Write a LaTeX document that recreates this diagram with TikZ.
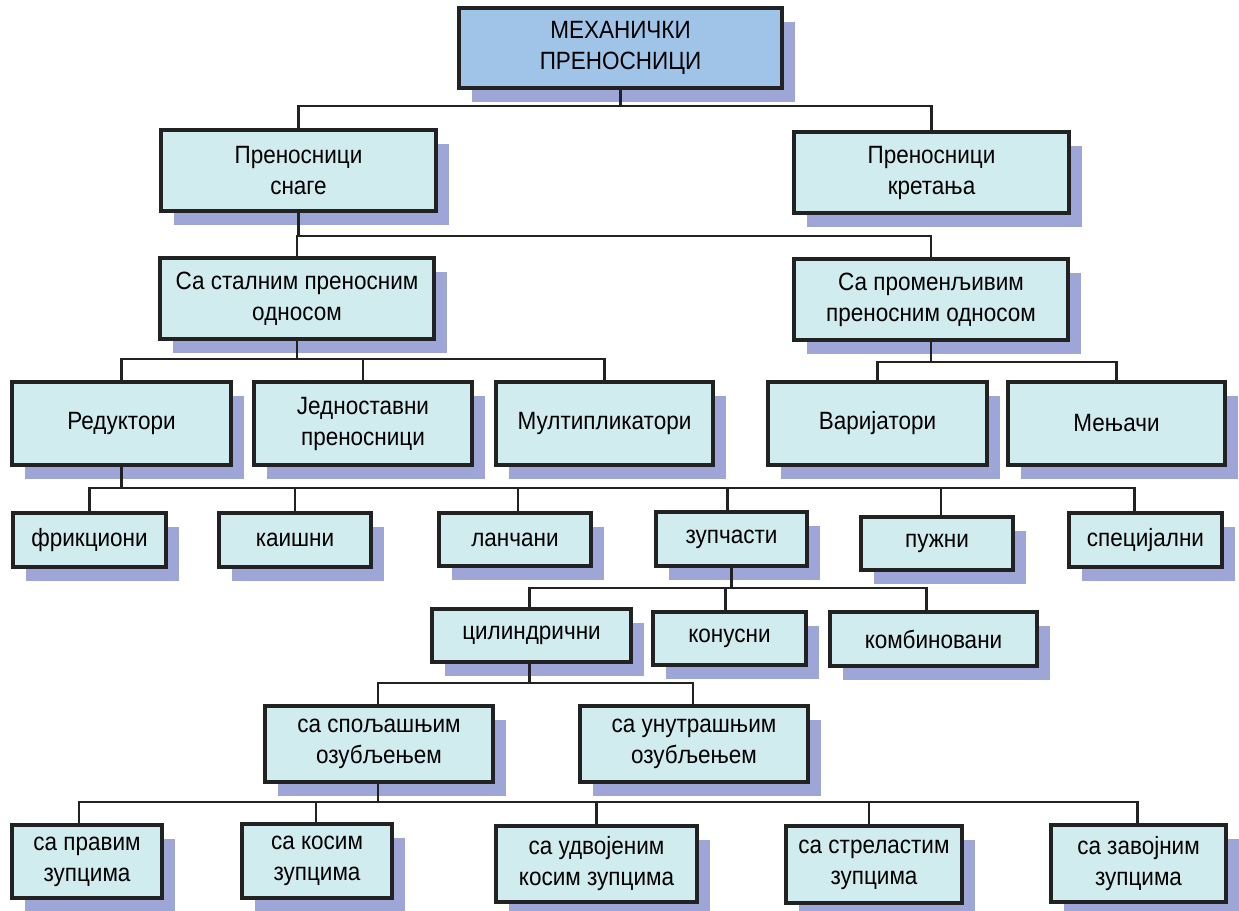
\documentclass[tikz,border=0pt]{standalone}
\usepackage{fontspec}
\setmainfont{Liberation Sans}[FakeStretch=0.9]
\usetikzlibrary{shadows,calc}
\definecolor{boxfill}{HTML}{D1ECEF}
\definecolor{topblue}{HTML}{A0C4E8}
\definecolor{shadowc}{HTML}{9DA6D6}
\definecolor{ink}{HTML}{222222}
\tikzset{
  box/.style={draw=ink, line width=3.1pt, fill=boxfill, align=center, inner sep=0pt,
    text=black, font=\fontsize{25}{31}\selectfont,
    general shadow={fill=shadowc, draw=none, shadow xshift=13pt, shadow yshift=-14pt}},
  conn/.style={draw=ink, line width=2.6pt}
}
\newcommand{\bx}[7]{% name, l, r, t, b, extra, text
  \node[box, #6, minimum width={(#3-#2)*1pt}, minimum height={(#5-#4)*1pt}] (#1) at ({(#2+#3)/2},{(#4+#5)/2}) {#7};}
\begin{document}
\begin{tikzpicture}[x=1pt,y=-1pt]
\useasboundingbox (0,0) rectangle (1239,910);
% buses
\coordinate (b1) at (0,106);
\coordinate (b2) at (0,236);
\coordinate (b3) at (0,359);
\coordinate (b3r) at (0,362);
\coordinate (b4) at (0,488);
\coordinate (b5) at (0,588);
\coordinate (b6) at (0,683);
\coordinate (b7) at (0,802);
% nodes
\bx{top}{459}{782}{8}{88}{fill=topblue}{МЕХАНИЧКИ\\ПРЕНОСНИЦИ}
\bx{snage}{161}{436}{130}{211}{}{Преносници\\снаге}
\bx{kret}{794}{1069}{132}{213}{}{Преносници\\кретања}
\bx{stal}{160}{434}{258}{339}{}{Са сталним преносним\\односом}
\bx{prom}{794}{1068}{259}{340}{}{Са променљивим\\преносним односом}
\bx{red}{12}{231}{382}{465}{}{Редуктори}
\bx{jed}{254}{472}{382}{465}{}{Једноставни\\преносници}
\bx{mult}{496}{713}{382}{465}{}{Мултипликатори}
\bx{var}{768}{987}{382}{465}{}{Варијатори}
\bx{menj}{1008}{1225}{382}{465}{}{Мењачи}
\bx{frik}{13}{166}{513}{567}{}{фрикциони}
\bx{kais}{219}{371}{513}{567}{}{каишни}
\bx{lanc}{439}{591}{513}{566}{}{ланчани}
\bx{zup}{656}{807}{512}{566}{}{зупчасти}
\bx{puz}{861}{1013}{517}{570}{}{пужни}
\bx{spec}{1069}{1222}{513}{567}{}{специјални}
\bx{cil}{432}{631}{609}{662}{}{цилиндрични}
\bx{kon}{653}{806}{612}{665}{}{конусни}
\bx{komb}{830}{1037}{612}{666}{}{комбиновани}
\bx{spol}{265}{493}{706}{782}{}{са спољашњим\\озубљењем}
\bx{unut}{580}{808}{706}{782}{}{са унутрашњим\\озубљењем}
\bx{prav}{12}{162}{825}{898}{}{са правим\\зупцима}
\bx{kos}{242}{392}{824}{898}{}{са косим\\зупцима}
\bx{udv}{496}{697}{826}{902}{}{са удвојеним\\косим зупцима}
\bx{strel}{786}{962}{826}{903}{}{са стреластим\\зупцима}
\bx{zav}{1051}{1226}{825}{902}{}{са завојним\\зупцима}
% connectors
\foreach \c in {snage,kret}
  \draw[conn] (\c.north) -- (\c.north |- b1) -| (top.south);
\foreach \c in {stal,prom}
  \draw[conn] (\c.north) -- (\c.north |- b2) -| (snage.south);
\foreach \c in {red,jed,mult}
  \draw[conn] (\c.north) -- (\c.north |- b3) -| (stal.south);
\foreach \c in {var,menj}
  \draw[conn] (\c.north) -- (\c.north |- b3r) -| (prom.south);
\foreach \c/\s in {frik/0,kais/0,lanc/3,zup/-4,puz/4,spec/-11}
  \draw[conn] ([xshift=\s pt]\c.north) -- ([xshift=\s pt]\c.north |- b4) -| (red.south);
\foreach \c/\s in {cil/-2,kon/-4,komb/-7}
  \draw[conn] ([xshift=\s pt]\c.north) -- ([xshift=\s pt]\c.north |- b5) -| (zup.south);
\foreach \c/\s in {spol/-1,unut/-1}
  \draw[conn] ([xshift=\s pt]\c.north) -- ([xshift=\s pt]\c.north |- b6) -| ([xshift=-2pt]cil.south);
\foreach \c/\s in {prav/-8,kos/-1,udv/0,strel/-5,zav/-1}
  \draw[conn] ([xshift=\s pt]\c.north) -- ([xshift=\s pt]\c.north |- b7) -| ([xshift=-1pt]spol.south);
\end{tikzpicture}
\end{document}
